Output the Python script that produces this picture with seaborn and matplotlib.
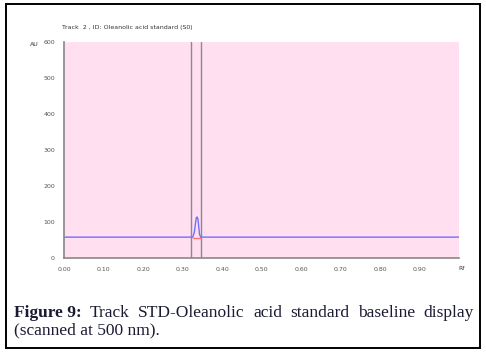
import seaborn as sns
import pandas as pd
import matplotlib.pyplot as plt
from matplotlib.patches import Rectangle

# trace
rf = [0.0, 0.200, 0.326, 0.330, 0.333, 0.335, 0.337, 0.339, 0.341, 0.343, 0.346, 0.500, 1.0]
au = [58, 58, 58, 72, 98, 112, 114, 108, 88, 66, 58, 58, 58]
peak_rf = [0.327, 0.346]
peak_base = [56, 56]
marker_rf = [0.322, 0.347]
x_ticks = [0.0, 0.1, 0.2, 0.3, 0.4, 0.5, 0.6, 0.7, 0.8, 0.9]
y_ticks = [0, 100, 200, 300, 400, 500, 600]
title = "Track  2 , ID: Oleanolic acid standard (S0)"
caption1 = ["Figure 9:", "Track", "STD-Oleanolic", "acid", "standard", "baseline", "display"]
caption2 = "(scanned at 500 nm)."

trace = pd.DataFrame({"Rf": rf, "AU": au})
base = pd.DataFrame({"Rf": peak_rf, "AU": peak_base})

sns.set_style("white")
fig = plt.figure(figsize=(4.86, 3.55), dpi=100)
ax = fig.add_axes([0.1317, 0.2732, 0.8128, 0.6085])
ax.set_facecolor("#ffdff0")

for m in marker_rf:
    ax.axvline(m, color="#8a8a8a", lw=1.0)
sns.lineplot(data=base, x="Rf", y="AU", ax=ax, color="#ff7070", lw=1.0)
sns.lineplot(data=trace, x="Rf", y="AU", ax=ax, color="#7070ff", lw=1.0)

ax.set_xlim(0, 1.0)
ax.set_ylim(0, 600)
ax.set_xticks(x_ticks)
ax.set_xticklabels([f"{t:.2f}" for t in x_ticks])
ax.set_yticks(y_ticks)
ax.set_xlabel("")
ax.set_ylabel("")
ax.tick_params(axis="both", labelsize=4.5, colors="#555555", length=3, width=0.6, direction="out")
for s in ["top", "right"]:
    ax.spines[s].set_visible(False)
for s in ["left", "bottom"]:
    ax.spines[s].set_color("#888888")
    ax.spines[s].set_linewidth(1.2)

fig.text(62 / 486, 1 - 27 / 355, title, fontsize=4.5, color="#333333", va="center")
fig.text(30 / 486, 1 - 45 / 355, "AU", fontsize=4.5, color="#333333", va="center")
fig.text(458 / 486, 1 - 268 / 355, "Rf", fontsize=4.5, color="#333333", va="center")

# outer frame
fig.patches.append(Rectangle((6 / 486, 1 - 348 / 355), 474 / 486, 344 / 355,
                             transform=fig.transFigure, fill=False, ec="black", lw=1.4))

# justified first caption line
fig.canvas.draw()
r = fig.canvas.get_renderer()
serif = ["Liberation Serif", "DejaVu Serif"]
words = []
for i, w in enumerate(caption1):
    t = fig.text(0, 1 - 317 / 355, w, fontsize=12.5, family=serif, color="#1a1a33",
                 weight="bold" if i == 0 else "normal", va="baseline")
    words.append(t)
widths = [t.get_window_extent(r).width for t in words]
left, right = 14, 474
gap = (right - left - sum(widths)) / (len(words) - 1)
x = left
for t, w in zip(words, widths):
    t.set_x(x / 486)
    x += w + gap
fig.text(14 / 486, 1 - 334 / 355, caption2, fontsize=12.5, family=serif, color="#1a1a33", va="baseline")

fig.savefig("out.png", dpi=100)
